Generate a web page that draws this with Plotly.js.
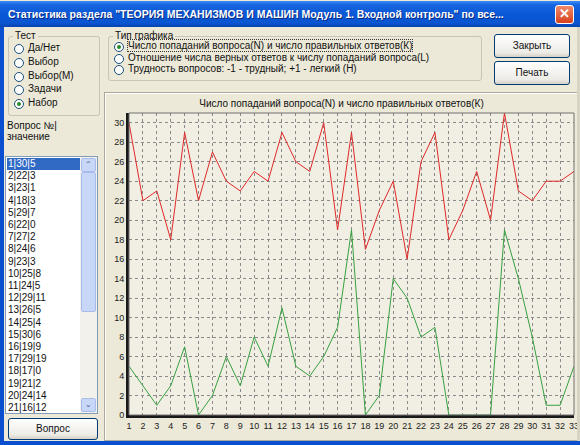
<!DOCTYPE html>
<html><head><meta charset="utf-8">
<script src="https://cdn.plot.ly/plotly-3.0.1.min.js"></script>
<style>
html,body{margin:0;padding:0;width:580px;height:445px;overflow:hidden;background:#ECE9D8;font-family:"Liberation Sans",Arial,sans-serif;font-size:10px;color:#111;}
.abs{position:absolute;}
#titlebar{left:0;top:1px;width:580px;height:26px;background:linear-gradient(#3a8cf6 0%,#1865e0 15%,#0a58d6 50%,#0b55d0 85%,#0842b0 100%);color:#fff;font-weight:bold;font-size:10.5px;line-height:26px;padding-left:8px;box-sizing:border-box;white-space:nowrap;text-shadow:1px 1px 0 #0a2a80;}
#close{left:555px;top:5px;width:19px;height:19px;border:1px solid #fff;border-radius:3px;background:linear-gradient(#f08a6a,#d8401c);box-sizing:border-box;color:#fff;font-size:13px;line-height:16px;text-align:center;font-weight:bold;}
#lborder{left:0;top:27px;width:4px;height:418px;background:#0a4fd0;}
#bborder{left:0;top:441px;width:580px;height:4px;background:#0a4fd0;}
#rborder{left:577px;top:27px;width:3px;height:418px;background:#d8d4c4;}
.group{border:1px solid #c9c5b5;border-radius:3px;box-sizing:border-box;}
.glabel{background:#ECE9D8;padding:0 2px;}
.radio{width:10px;height:10px;border:1px solid #1c5180;border-radius:50%;background:#fff;box-sizing:border-box;}
.radio.on::after{content:"";position:absolute;left:2px;top:2px;width:4px;height:4px;border-radius:50%;background:#2a8a2a;}
.btn{border:1px solid #003c74;border-radius:3px;background:linear-gradient(#fff,#ecebe6 80%,#d6d0c5);box-sizing:border-box;text-align:center;}
#list{left:5px;top:156px;width:93px;height:258px;background:#fff;border:1px solid #7f9db9;box-sizing:border-box;overflow:hidden;}
.item{position:absolute;left:1px;width:76px;height:12px;line-height:12px;padding-left:1px;font-size:10px;}
.item.sel{background:#316ac5;color:#fff;}
#sb{left:80px;top:157px;width:17px;height:256px;background:#f3f1ec;}
#thumb{left:81px;top:172px;width:15px;height:140px;background:#c8d6f8;border:1px solid #a8bcec;box-sizing:border-box;border-radius:2px;}
.arrow{width:15px;height:14px;background:#c8d6f8;border:1px solid #a8bcec;box-sizing:border-box;border-radius:2px;font-size:8px;color:#4d6185;text-align:center;line-height:12px;}
#panel{left:104px;top:92px;width:474px;height:349px;border:1px solid #aca899;box-sizing:border-box;box-shadow:inset 1px 1px 0 #fff;}
#chart{left:105px;top:93px;width:481px;height:347px;}
</style></head>
<body>
<div id="titlebar" class="abs">Статистика раздела "ТЕОРИЯ МЕХАНИЗМОВ И МАШИН Модуль 1. Входной контроль" по все...</div>
<div id="close" class="abs">✕</div>
<div id="lborder" class="abs"></div>

<!-- Тест group -->
<div class="abs group" style="left:8px;top:36px;width:92px;height:80px;"></div>
<div class="abs glabel" style="left:13px;top:30px;">Тест</div>
<div id="testRadios"></div>

<div class="abs" style="left:7px;top:120px;">Вопрос №|</div>
<div class="abs" style="left:7px;top:131px;">значение</div>

<div id="list" class="abs"></div>
<div id="sb" class="abs"></div>
<div id="thumb" class="abs"></div>
<div class="abs arrow" style="left:81px;top:158px;">⌃</div>
<div class="abs arrow" style="left:81px;top:398px;">⌄</div>

<div class="abs btn" style="left:8px;top:418px;width:90px;height:22px;line-height:20px;">Вопрос</div>

<!-- Тип графика group -->
<div class="abs group" style="left:108px;top:36px;width:374px;height:45px;"></div>
<div class="abs glabel" style="left:113px;top:30px;">Тип графика</div>
<div id="typeRadios"></div>

<div class="abs btn" style="left:494px;top:34px;width:76px;height:24px;line-height:22px;">Закрыть</div>
<div class="abs btn" style="left:494px;top:61px;width:76px;height:24px;line-height:22px;">Печать</div>

<div id="panel" class="abs"></div>
<div id="chart" class="abs"></div>
<div id="rborder" class="abs"></div>
<div id="bborder" class="abs"></div>

<script>
// ---- data ----
const questions = [1,2,3,4,5,6,7,8,9,10,11,12,13,14,15,16,17,18,19,20,21,22,23,24,25,26,27,28,29,30,31,32,33];
const hitsN   = [30,22,23,18,29,22,27,24,23,25,24,29,26,25,30,19,29,17,21,24,16,26,29,18,21,25,20,31,23,22,24,24,25];
const rightK  = [5,3,1,3,7,0,2,6,3,8,5,11,5,4,6,9,19,0,2,14,12,8,9,0,0,0,0,19,14,8,1,1,5];
const yTicks  = [0,2,4,6,8,10,12,14,16,18,20,22,24,26,28,30];
const testOptions = ["Да/Нет","Выбор","Выбор(М)","Задачи","Набор"];
const typeOptions = ["Число попаданий вопроса(N) и число правильных ответов(К)",
                     "Отношение числа верных ответов к числу попаданий вопроса(L)",
                     "Трудность вопросов: -1 - трудный; +1 - легкий (H)"];
const chartTitle = "Число попаданий вопроса(N) и число правильных ответов(К)";
const visibleListRows = 21;

// ---- dialog widgets ----
function radios(containerId, opts, x, y0, dy, selected, focus){
  const c = document.getElementById(containerId);
  opts.forEach((t,i)=>{
    const r = document.createElement('div');
    r.className = 'abs radio' + (i===selected?' on':'');
    r.style.left = x+'px'; r.style.top = (y0+i*dy-5)+'px';
    c.appendChild(r);
    const l = document.createElement('div');
    l.className = 'abs';
    l.style.left = (x+14)+'px'; l.style.top = (y0+i*dy-7)+'px';
    l.style.whiteSpace='nowrap';
    if (focus && i===selected){ l.style.outline='1px dotted #333'; }
    l.textContent = t;
    c.appendChild(l);
  });
}
radios('testRadios', testOptions, 14, 49, 13.8, 4, false);
radios('typeRadios', typeOptions, 114, 47, 11.6, 0, true);

const list = document.getElementById('list');
questions.slice(0, visibleListRows).forEach((q,i)=>{
  const d = document.createElement('div');
  d.className = 'item' + (i===0?' sel':'');
  d.style.top = (1 + i*12.2)+'px';
  d.textContent = q + '|' + hitsN[i] + '|' + rightK[i];
  list.appendChild(d);
});

// ---- chart ----
const traces = [
  {x: questions, y: hitsN, type:'scatter', mode:'lines', line:{color:'#e02828', width:1}, hoverinfo:'skip'},
  {x: questions, y: rightK, type:'scatter', mode:'lines', line:{color:'#37a040', width:1}, hoverinfo:'skip'}
];
const layout = {
  width:481, height:347,
  margin:{l:24, r:12, t:20, b:25, pad:0},
  paper_bgcolor:'rgba(0,0,0,0)', plot_bgcolor:'#F1EFE4',
  showlegend:false,
  font:{family:'"Liberation Sans", Arial, sans-serif', size:9, color:'#222'},
  title:{text:chartTitle, font:{size:10, color:'#111'}, x:(473/2-24)/445, xref:'paper', xanchor:'center', y:1-10/347, yanchor:'middle', yref:'container'},
  xaxis:{range:[1,33], tickmode:'array', tickvals:questions, ticktext:questions.map(String),
         showgrid:true, gridcolor:'#8a8a8a', griddash:'dot', gridwidth:1,
         showline:true, linecolor:'#1a1a1a', linewidth:3, zeroline:false, ticks:'', ticklen:0,
         ticklabeloverflow:'allow', tickfont:{size:9}, fixedrange:true},
  yaxis:{range:[0,31], tickmode:'array', tickvals:yTicks, ticktext:yTicks.map(String),
         showgrid:true, gridcolor:'#8a8a8a', griddash:'dot', gridwidth:1,
         showline:true, linecolor:'#1a1a1a', linewidth:3, zeroline:false, ticks:'', ticklen:0,
         tickfont:{size:9}, fixedrange:true},
  shapes:[{type:'rect', xref:'paper', yref:'paper', x0:0, x1:1, y0:0, y1:1, line:{color:'#707070', width:1}, fillcolor:'rgba(0,0,0,0)', layer:'above'}]
};
Plotly.newPlot('chart', traces, layout, {displayModeBar:false, staticPlot:true});
</script>
</body></html>
